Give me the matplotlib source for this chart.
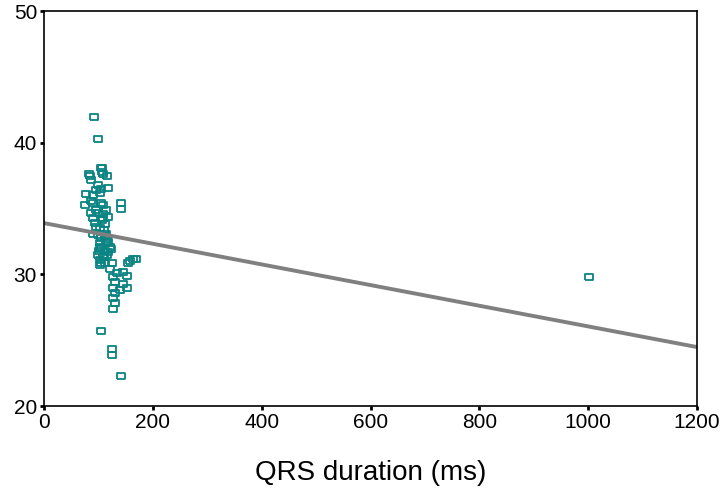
import matplotlib
matplotlib.use("Agg")
import matplotlib.pyplot as plt
import numpy as np

# QRS duration (ms) vs y value
qrs = [92, 99,
       105, 107, 116, 85, 86, 108, 83, 107, 99, 118, 105, 96, 77, 90, 103, 86, 105, 141,
       75, 90, 108, 141, 86, 99, 114, 90, 108, 118, 94, 112, 103, 90, 114, 105, 105, 114,
       103, 118, 103, 112, 121, 99, 116, 103, 103, 112, 125, 154, 164, 127, 134, 145, 153,
       130, 145, 127, 140, 153, 130, 127, 130, 127,
       105, 125, 125, 141, 1001,
       158, 169, 96, 110, 101, 108, 112, 99, 107, 104, 110, 118, 121, 123, 115, 109, 95]
val = [42.0, 40.3,
       38.1, 37.8, 37.5, 37.5, 37.2, 37.6, 37.6, 38.1, 36.8, 36.6, 36.5, 36.4, 36.1, 36.0, 36.2, 35.6, 35.4, 35.4,
       35.3, 35.4, 35.3, 35.0, 34.7, 34.7, 34.9, 34.3, 34.3, 34.4, 33.9, 33.8, 33.5, 33.1, 33.1, 32.8, 32.1, 32.4,
       32.4, 32.5, 32.0, 31.8, 32.1, 31.5, 31.5, 31.1, 30.7, 30.9, 30.9, 30.9, 31.2, 29.8, 30.1, 30.2, 29.9,
       29.4, 29.3, 29.0, 28.8, 29.0, 28.6, 28.2, 27.8, 27.4,
       25.7, 24.3, 23.9, 22.3, 29.8,
       31.0, 31.2, 34.9, 33.4, 31.8, 31.3, 32.9, 33.0, 34.1, 30.9, 31.4, 31.7, 30.4, 31.9, 32.7, 34.6, 33.6]

# fitted line
fit_intercept = 33.9
fit_slope = -0.00785

plt.rcParams['font.family'] = ['Liberation Sans', 'DejaVu Sans']

fig = plt.figure(figsize=(7.24, 4.88), dpi=100)
ax = fig.add_axes([0.0608, 0.168, 0.9019, 0.809])

rect = [(-1, -0.7), (1, -0.7), (1, 0.7), (-1, 0.7), (-1, -0.7)]
ax.plot(qrs, val, linestyle='none', marker=rect, markersize=6,
        markerfacecolor='none', markeredgecolor='#0b8484', markeredgewidth=1.3)

xs = np.array([0, 1200])
ax.plot(xs, fit_intercept + fit_slope * xs, color='#808080', linewidth=2.8)

ax.set_xlim(0, 1200)
ax.set_ylim(20, 50)
ax.set_xticks([0, 200, 400, 600, 800, 1000, 1200])
ax.set_yticks([20, 30, 40, 50])
ax.tick_params(direction='out', length=3, width=2, labelsize=15, pad=2)
for s in ax.spines.values():
    s.set_linewidth(1.2)

ax.set_xlabel("QRS duration (ms)", fontsize=20, labelpad=20)

fig.savefig("out.png", dpi=100)
